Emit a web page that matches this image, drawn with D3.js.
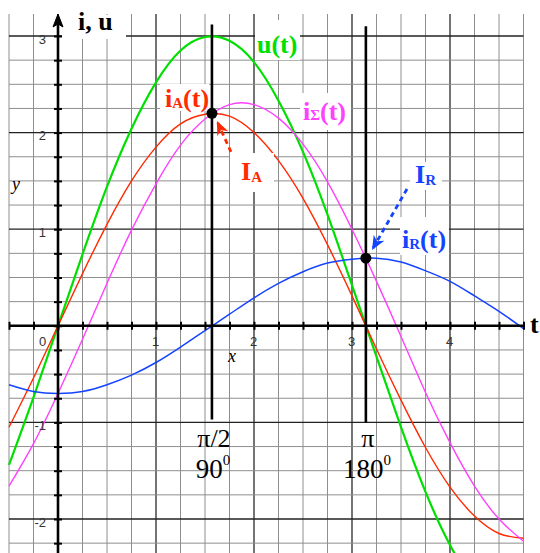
<!DOCTYPE html>
<html>
<head>
<meta charset="utf-8">
<script src="https://cdn.jsdelivr.net/npm/d3@7"></script>
<style>
  html, body { margin: 0; padding: 0; background: #fff; }
  svg { display: block; }
</style>
</head>
<body>
<svg id="chart" width="540" height="553"></svg>
<script>
const T      = [-0.5, -0.25, 0, 0.25, 0.5, 0.75, 1, 1.25, 1.5, 1.75, 2, 2.25, 2.5, 2.75, 3, 3.25, 3.5, 3.75, 4, 4.25, 4.5, 4.75];
const U      = [-1.44, -0.74, 0, 0.74, 1.44, 2.04, 2.52, 2.85, 2.99, 2.95, 2.73, 2.33, 1.80, 1.15, 0.42, -0.32, -1.05, -1.72, -2.27, -2.68, -2.93, -3.00];
const I_A    = [-1.05, -0.54, 0, 0.54, 1.05, 1.50, 1.85, 2.09, 2.19, 2.17, 2.00, 1.71, 1.32, 0.84, 0.31, -0.24, -0.77, -1.26, -1.67, -1.97, -2.15, -2.20];
const I_R    = [-0.61, -0.68, -0.70, -0.68, -0.61, -0.51, -0.38, -0.22, -0.05, 0.12, 0.29, 0.44, 0.56, 0.65, 0.69, 0.70, 0.66, 0.57, 0.46, 0.31, 0.15, -0.03];
const I_SUM  = [-1.66, -1.22, -0.70, -0.14, 0.44, 0.99, 1.47, 1.87, 2.14, 2.29, 2.29, 2.15, 1.88, 1.49, 1.00, 0.46, -0.11, -0.69, -1.21, -1.66, -2.00, -2.23];

const X_TICK_LABELS = [0, 1, 2, 3, 4];
const Y_TICK_LABELS = [-2, -1, 1, 2, 3];

// marked instants: t, peak value shown by the dot, angle labels
const MARK_T      = [Math.PI / 2, Math.PI];
const MARK_VALUE  = [2.2, 0.7];
const MARK_RAD    = ["π/2", "π"];
const MARK_DEG    = ["90", "180"];

const SERIES = [
  { values: U,     color: "#00e000", width: 2.2 },
  { values: I_A,   color: "#ff2a00", width: 1.4 },
  { values: I_SUM, color: "#ff40ff", width: 1.4 },
  { values: I_R,   color: "#1444ff", width: 1.5 },
];

// ── Scales ──────────────────────────────────────────────────────────────────
const svg = d3.select("#chart");
const x = d3.scaleLinear().domain([-0.5, 4.75]).range([9, 523.5]);
const y = d3.scaleLinear().domain([-2, 3]).range([519, 36]);
const GRID_TOP = 14, BOTTOM = 553;
const SERIF = "'Liberation Serif', 'Times New Roman', serif";
const SANS  = "'Liberation Sans', Arial, Helvetica, sans-serif";

// ── Grid ────────────────────────────────────────────────────────────────────
const grid = svg.append("g");
d3.range(-2, 20).forEach(i => {
  const major = i % 4 === 0;
  grid.append("line")
    .attr("x1", x(i / 4)).attr("x2", x(i / 4))
    .attr("y1", GRID_TOP).attr("y2", BOTTOM)
    .attr("stroke", major ? "#000" : "#8e8e8e")
    .attr("stroke-width", major ? 1.1 : 1);
});
d3.range(-10, 13).forEach(i => {
  const major = i % 4 === 0;
  grid.append("line")
    .attr("x1", x(-0.5)).attr("x2", x(4.75))
    .attr("y1", y(i / 4)).attr("y2", y(i / 4))
    .attr("stroke", major ? "#222" : "#8e8e8e")
    .attr("stroke-width", major ? 1.3 : 1);
});

// ── Curves ──────────────────────────────────────────────────────────────────
const line = d3.line()
  .x((d, i) => x(T[i]))
  .y(d => y(d))
  .curve(d3.curveNatural);

svg.append("g").selectAll("path").data(SERIES).enter().append("path")
  .attr("d", d => line(d.values))
  .attr("fill", "none")
  .attr("stroke", d => d.color)
  .attr("stroke-width", d => d.width);

// ── Label backgrounds (white boxes hide grid behind the labels) ─────────────
const BOXES = [
  [62, 15, 64, 24],    // i, u
  [255, 20, 45, 40],   // u(t)
  [160, 84, 49, 27],   // iA(t)
  [300, 93, 51, 37],   // iΣ(t)
  [230, 153, 44, 39],  // IA
  [410, 162, 32, 28],  // IR
  [400, 217, 49, 38],  // iR(t)
  [526, 310, 14, 30],  // t
];
svg.append("g").selectAll("rect").data(BOXES).enter().append("rect")
  .attr("x", d => d[0]).attr("y", d => d[1])
  .attr("width", d => d[2]).attr("height", d => d[3])
  .attr("fill", "#fff");

// ── Axes ────────────────────────────────────────────────────────────────────
const x0 = x(0), y0 = y(0);

// tick marks straddling the axes every quarter unit
svg.append("g")
  .attr("transform", `translate(${x0 + 4},0)`)
  .call(d3.axisLeft(y).tickValues(d3.range(-10, 13).map(i => i / 4)).tickSize(8).tickFormat(""))
  .call(g => g.select(".domain").remove())
  .call(g => g.selectAll("line").attr("stroke-width", 2));

svg.append("g")
  .attr("transform", `translate(0,${y0 - 4})`)
  .call(d3.axisBottom(x).tickValues(d3.range(-2, 20).map(i => i / 4)).tickSize(8).tickFormat(""))
  .call(g => g.select(".domain").remove())
  .call(g => g.selectAll("line").attr("stroke-width", 2));

// tick labels
svg.append("g")
  .attr("transform", `translate(${x0},0)`)
  .call(d3.axisLeft(y).tickValues(Y_TICK_LABELS).tickSize(0).tickPadding(12).tickFormat(d => String(d)))
  .call(g => g.select(".domain").remove())
  .call(g => g.selectAll("text")
    .attr("dy", "0.55em").attr("font-family", SANS).attr("font-size", 13).style("fill", "#333"));

svg.append("g")
  .attr("transform", `translate(0,${y0})`)
  .call(d3.axisBottom(x).tickValues(X_TICK_LABELS).tickSize(0).tickPadding(11).tickFormat(d => String(d)))
  .call(g => g.select(".domain").remove())
  .call(g => g.selectAll("text")
    .attr("font-family", SANS).attr("font-size", 13).style("fill", "#333")
    .attr("x", d => d === 0 ? -16 : -1));

// axis lines
svg.append("line")
  .attr("x1", x(-0.5)).attr("x2", x(4.75)).attr("y1", y0).attr("y2", y0)
  .attr("stroke", "#000").attr("stroke-width", 2.6);
svg.append("line")
  .attr("x1", x0).attr("x2", x0).attr("y1", BOTTOM).attr("y2", GRID_TOP + 6)
  .attr("stroke", "#000").attr("stroke-width", 2.6);
svg.append("path")
  .attr("d", `M${x0},${GRID_TOP} L${x0 - 5},${GRID_TOP + 13} L${x0},${GRID_TOP + 10} L${x0 + 5},${GRID_TOP + 13} Z`)
  .attr("fill", "#000").attr("stroke", "#000").attr("stroke-width", 1);

// ── Marker lines at π/2 and π ───────────────────────────────────────────────
const MARK_TOP = [3.12, 3.10], MARK_BOTTOM = [-0.97, -1.0];
MARK_T.forEach((t, i) => {
  svg.append("line")
    .attr("x1", x(t)).attr("x2", x(t))
    .attr("y1", y(MARK_TOP[i])).attr("y2", y(MARK_BOTTOM[i]))
    .attr("stroke", "#000").attr("stroke-width", 2.6);

  svg.append("text")
    .attr("x", x(t) + 2).attr("y", 447)
    .attr("text-anchor", "middle")
    .attr("font-family", SERIF).attr("font-size", 26)
    .text(MARK_RAD[i]);

  const deg = svg.append("text")
    .attr("x", x(t) + 1).attr("y", 478)
    .attr("text-anchor", "middle")
    .attr("font-family", SERIF).attr("font-size", 27);
  deg.append("tspan").text(MARK_DEG[i]);
  deg.append("tspan").attr("font-size", 15).attr("dy", -13).text("0");
});

// ── Dashed arrows ───────────────────────────────────────────────────────────
const defs = svg.append("defs");
[["headA", "#ff2a00"], ["headR", "#1444ff"]].forEach(([id, c]) => {
  defs.append("marker")
    .attr("id", id).attr("markerUnits", "userSpaceOnUse")
    .attr("viewBox", "0 0 14 12").attr("refX", 14).attr("refY", 6)
    .attr("markerWidth", 14).attr("markerHeight", 12)
    .attr("orient", "auto")
    .append("path").attr("d", "M0,0 L14,6 L0,12 L4,6 Z").attr("fill", c);
});
const ARROWS = [
  { from: [1.765, 1.80], to: [1.622, 2.12], color: "#ff2a00", head: "headA" },
  { from: [3.561, 1.416], to: [3.204, 0.785], color: "#1444ff", head: "headR" },
];
ARROWS.forEach(a => {
  svg.append("line")
    .attr("x1", x(a.from[0])).attr("y1", y(a.from[1]))
    .attr("x2", x(a.to[0])).attr("y2", y(a.to[1]))
    .attr("stroke", a.color).attr("stroke-width", 2.8)
    .attr("stroke-dasharray", "5,4")
    .attr("marker-end", `url(#${a.head})`);
});

// ── Dots ────────────────────────────────────────────────────────────────────
svg.append("g").selectAll("circle").data(MARK_T).enter().append("circle")
  .attr("cx", d => x(d)).attr("cy", (d, i) => y(MARK_VALUE[i]))
  .attr("r", 5.5).attr("fill", "#000");

// ── Text labels ─────────────────────────────────────────────────────────────
const LABELS = [
  { parts: [["i, u"]], color: "#000", at: [78, 30] },
  { parts: [["u(t)"]], color: "#00e000", at: [257, 53] },
  { parts: [["i"], ["A", 1], ["(t)"]], color: "#ff2a00", at: [165, 107] },
  { parts: [["i"], ["Σ", 0], ["(t)"]], color: "#ff40ff", at: [303, 120] },
  { parts: [["I"], ["A", 2]], color: "#ff2a00", at: [241, 180] },
  { parts: [["I"], ["R", 2]], color: "#1444ff", at: [415, 183] },
  { parts: [["i"], ["R", 1], ["(t)"]], color: "#1444ff", at: [402, 248] },
  { parts: [["t"]], color: "#000", at: [530, 333] },
];
LABELS.forEach(l => {
  const text = svg.append("text")
    .attr("x", l.at[0]).attr("y", l.at[1])
    .attr("font-family", SERIF).attr("font-size", 26).attr("font-weight", "bold")
    .attr("fill", l.color);
  let shift = 0;
  l.parts.forEach(([s, sub]) => {
    const ts = text.append("tspan").text(s);
    if (sub !== undefined) {
      ts.attr("font-size", 15).attr("dy", sub - shift);
      shift = sub;
    } else if (shift) {
      ts.attr("dy", -shift);
      shift = 0;
    }
  });
});

// italic axis letters
svg.append("text").attr("x", 12).attr("y", 190)
  .attr("font-family", SERIF).attr("font-style", "italic").attr("font-size", 18).text("y");
svg.append("text").attr("x", 228).attr("y", 362)
  .attr("font-family", SERIF).attr("font-style", "italic").attr("font-size", 18).text("x");
</script>
</body>
</html>
